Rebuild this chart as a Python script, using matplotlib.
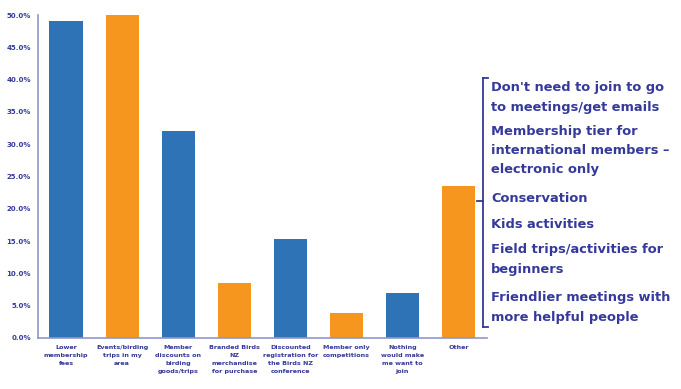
import matplotlib
matplotlib.use("Agg")
import matplotlib.pyplot as plt
from matplotlib.ticker import FuncFormatter, MultipleLocator

categories = [
    "Lower\nmembership\nfees",
    "Events/birding\ntrips in my\narea",
    "Member\ndiscounts on\nbirding\ngoods/trips",
    "Branded Birds\nNZ\nmerchandise\nfor purchase",
    "Discounted\nregistration for\nthe Birds NZ\nconference",
    "Member only\ncompetitions",
    "Nothing\nwould make\nme want to\njoin",
    "Other",
]
values = [49.1, 50.0, 32.0, 8.5, 15.4, 3.9, 7.0, 23.5]
bar_colors = ["#2E73B5", "#F7961E", "#2E73B5", "#F7961E", "#2E73B5", "#F7961E", "#2E73B5", "#F7961E"]

other_lines = [
    "Don't need to join to go",
    "to meetings/get emails",
    "Membership tier for",
    "international members \u2013",
    "electronic only",
    "Conservation",
    "Kids activities",
    "Field trips/activities for",
    "beginners",
    "Friendlier meetings with",
    "more helpful people",
]
other_line_y = [88, 107, 132, 150, 170, 198, 224, 249, 269, 297, 317]

navy = "#34399A"
axis_col = "#9097C6"

W, H = 681, 389
fig = plt.figure(figsize=(W / 100, H / 100), dpi=100)
ax = fig.add_axes([38 / W, 1 - 338 / H, (486.5 - 38) / W, (338 - 15) / H])

x = list(range(len(categories)))
ax.bar(x, values, width=0.59, color=bar_colors, clip_on=False, zorder=2)
ax.set_xlim(-0.5, len(categories) - 0.5)
ax.set_ylim(0, 50)
ax.yaxis.set_major_locator(MultipleLocator(5))
ax.yaxis.set_major_formatter(FuncFormatter(lambda v, p: f"{v:.1f}%"))

for s in ["top", "right"]:
    ax.spines[s].set_visible(False)
for s in ["left", "bottom"]:
    ax.spines[s].set_color(axis_col)
    ax.spines[s].set_linewidth(1.2)

ax.tick_params(axis="y", length=0, pad=5, labelsize=5, labelcolor=navy)
ax.tick_params(axis="x", length=0, pad=5, labelsize=4.6, labelcolor=navy)
ax.set_xticks(x)
ax.set_xticklabels(categories, linespacing=1.75, va="top")
for lab in ax.get_xticklabels() + ax.get_yticklabels():
    lab.set_fontweight("bold")

# Bracket with list of "Other" responses
def fx(px):
    return px / W

def fy(py):
    return 1 - py / H

bx = 483
top, bot, mid = 78, 327, 201
fig.add_artist(plt.Line2D([fx(bx), fx(bx)], [fy(top), fy(bot)], color=navy, lw=1.3))
fig.add_artist(plt.Line2D([fx(bx), fx(bx + 5)], [fy(top), fy(top)], color=navy, lw=1.3))
fig.add_artist(plt.Line2D([fx(bx), fx(bx + 5)], [fy(bot), fy(bot)], color=navy, lw=1.3))
fig.add_artist(plt.Line2D([fx(bx - 6), fx(bx)], [fy(mid), fy(mid)], color=navy, lw=1.3))

for line, py in zip(other_lines, other_line_y):
    fig.text(fx(491), fy(py), line, ha="left", va="center", fontsize=9.4,
             fontweight="bold", color=navy)

fig.savefig("out.png", dpi=100)
